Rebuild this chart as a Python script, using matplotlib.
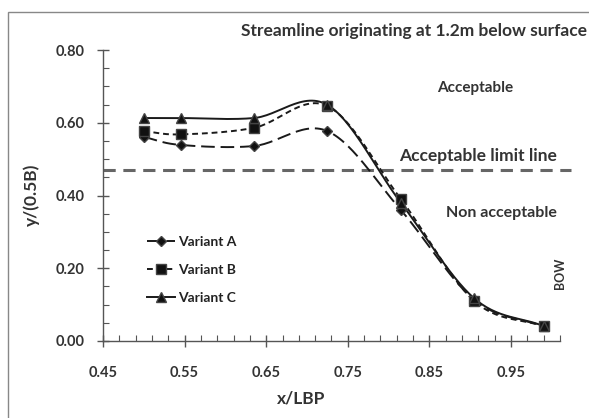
import numpy as np
import matplotlib
matplotlib.use("Agg")
import matplotlib.pyplot as plt
from matplotlib.lines import Line2D
from matplotlib.patches import Rectangle

plt.rcParams['font.family'] = ['Lato', 'DejaVu Sans']

x_vals = [0.50, 0.545, 0.635, 0.725, 0.815, 0.905, 0.99]
variant_a = [0.561, 0.539, 0.536, 0.577, 0.360, 0.113, 0.040]
variant_b = [0.577, 0.568, 0.586, 0.646, 0.390, 0.110, 0.040]
variant_c = [0.613, 0.613, 0.613, 0.649, 0.380, 0.117, 0.041]
limit_y = 0.47
series_names = ["Variant A", "Variant B", "Variant C"]
xticks = [0.45, 0.55, 0.65, 0.75, 0.85, 0.95]
yticks = [0.0, 0.2, 0.4, 0.6, 0.8]


def smooth(xs, ys, n=30):
    pts = np.column_stack([xs, ys]).astype(float)
    p = np.vstack([pts[0] - (pts[1] - pts[0]), pts, pts[-1] + (pts[-1] - pts[-2])])
    out = []
    for i in range(1, len(p) - 2):
        p0, p1, p2, p3 = p[i - 1], p[i], p[i + 1], p[i + 2]
        t = np.linspace(0, 1, n)[:, None]
        c = 0.5 * ((2 * p1) + (-p0 + p2) * t + (2 * p0 - 5 * p1 + 4 * p2 - p3) * t ** 2
                   + (-p0 + 3 * p1 - 3 * p2 + p3) * t ** 3)
        out.append(c if i == 1 else c[1:])
    out = np.vstack(out)
    return out[:, 0], out[:, 1]


W, H = 589, 418
fig = plt.figure(figsize=(W / 100, H / 100), dpi=100)
fig.patches.append(Rectangle((8 / W, -0.01), 0.99, (H - 12) / H + 0.01,
                             transform=fig.transFigure, fill=False,
                             edgecolor='#888888', linewidth=1.0))
ax = fig.add_axes([103 / W, (H - 341) / H, (560 - 103) / W, (341 - 50) / H])

lc = '#1a1a1a'
styles = [
    (variant_a, 'D', (0, (7, 3)), 5.5),
    (variant_b, 's', (0, (3, 2)), 6.5),
    (variant_c, '^', '-', 6.5),
]
handles = []
for (ys, mk, ls, ms), name in zip(styles, series_names):
    sx, sy = smooth(x_vals, ys)
    ax.plot(sx, sy, color=lc, linestyle=ls, linewidth=1.4, zorder=3)
    ax.plot(x_vals, ys, linestyle='none', marker=mk, markersize=ms,
            color='#111111', markeredgecolor='#444444', zorder=4)
    handles.append(Line2D([], [], color=lc, linestyle=ls, linewidth=1.4,
                          marker=mk, markersize=ms, markerfacecolor='#111111',
                          markeredgecolor='#444444'))

ax.plot([0.45, 1.024], [limit_y, limit_y], color='#666666', linestyle=(0, (4, 2.5)),
        linewidth=2.2, clip_on=False, zorder=2)

ax.set_xlim(0.45, 1.01)
ax.set_ylim(0.0, 0.80)
ax.set_xticks(xticks)
ax.set_xticklabels([f"{v:.2f}" for v in xticks])
ax.set_yticks(yticks)
ax.set_yticklabels([f"{v:.2f}" for v in yticks])
ax.set_xticks(np.arange(0.45, 1.0101, 0.02), minor=True)
ax.set_yticks(np.arange(0.0, 0.801, 0.05), minor=True)

for s in ['top', 'right']:
    ax.spines[s].set_visible(False)
for s in ['left', 'bottom']:
    ax.spines[s].set_color('#555555')
    ax.spines[s].set_linewidth(1.0)

ax.tick_params(which='major', direction='inout', length=8, width=1.0, color='#555555',
               labelsize=10.5, labelcolor='#333333')
ax.tick_params(axis='x', which='major', pad=14)
ax.tick_params(axis='y', which='major', pad=9)
ax.tick_params(which='minor', direction='in', length=4, width=0.8, color='#555555')
for lab in ax.get_xticklabels() + ax.get_yticklabels():
    lab.set_fontweight('bold')

ax.set_xlabel("x/LBP", fontsize=12.5, fontweight='bold', color='#333333')
ax.set_ylabel("y/(0.5B)", fontsize=12.5, fontweight='bold', color='#333333')
ax.xaxis.set_label_coords((301 - 103) / 457, (341 - 399) / 291)
ax.yaxis.set_label_coords((32 - 103) / 457, (341 - 195) / 291)
ax.xaxis.label.set_va('center')
ax.yaxis.label.set_va('center')

tc = '#333333'
fig.text(587 / W, 1 - 31 / H, "Streamline originating at 1.2m below surface",
         ha='right', va='center', fontsize=12.5, fontweight='bold', color=tc)
fig.text(475 / W, 1 - 88 / H, "Acceptable", ha='center', va='center',
         fontsize=11, fontweight='bold', color=tc)
fig.text(478 / W, 1 - 156 / H, "Acceptable limit line", ha='center', va='center',
         fontsize=12.5, fontweight='bold', color=tc)
fig.text(501 / W, 1 - 213 / H, "Non acceptable", ha='center', va='center',
         fontsize=11.5, fontweight='bold', color=tc)
fig.text(560 / W, 1 - 273 / H, "BOW", ha='center', va='center', rotation=90,
         fontsize=9, fontweight='bold', color=tc)

leg = ax.legend(handles, series_names, loc='upper left', bbox_to_anchor=(0.07, 0.405),
                frameon=False, handlelength=2.0, handletextpad=0.2, labelspacing=1.15,
                prop={'size': 10, 'weight': 'bold'})
for t in leg.get_texts():
    t.set_color('#222222')

fig.savefig("out.png", dpi=100)
